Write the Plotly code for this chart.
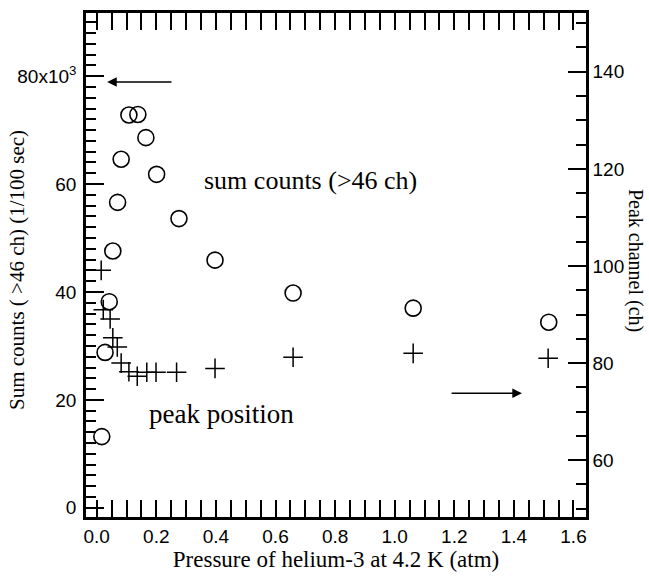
import plotly.graph_objects as go

# ---- data ----
p_sum = [0.017, 0.028, 0.042, 0.054, 0.070, 0.082, 0.108, 0.138, 0.165, 0.201, 0.276, 0.397, 0.659, 1.062, 1.517]
sum_counts = [13.2, 28.8, 38.2, 47.6, 56.6, 64.6, 72.8, 72.9, 68.6, 61.8, 53.6, 45.9, 39.8, 37.0, 34.4]

p_peak = [0.015, 0.022, 0.045, 0.054, 0.069, 0.082, 0.108, 0.136, 0.168, 0.199, 0.268, 0.397, 0.659, 1.062, 1.515]
peak_ch = [99.1, 91.0, 89.1, 85.2, 83.3, 80.0, 78.2, 77.3, 78.1, 78.1, 78.1, 78.9, 81.2, 82.0, 81.0]

left_tickvals = [0, 20, 40, 60, 80]
left_ticktext = ["0", "20", "40", "60", "80x10<sup>3</sup>"]
right_tickvals = [60, 80, 100, 120, 140]

SANS = "Liberation Sans, Arial, Helvetica, sans-serif"
SERIF = "Liberation Serif, Times New Roman, serif"

fig = go.Figure()
fig.add_trace(go.Scatter(
    x=p_sum, y=sum_counts, mode="markers", name="sum counts",
    marker=dict(symbol="circle-open", size=16, color="black", line=dict(width=1.6, color="black")),
    yaxis="y", showlegend=False))
fig.add_trace(go.Scatter(
    x=p_peak, y=peak_ch, mode="markers", name="peak position",
    marker=dict(symbol="cross-thin-open", size=14, color="black", line=dict(width=1.5, color="black")),
    yaxis="y2", showlegend=False))

axis_common = dict(showgrid=False, zeroline=False, showline=True, linecolor="black", linewidth=2.5,
                   ticks="inside", tickcolor="black", tickwidth=2.2,
                   tickfont=dict(family=SANS, size=19, color="black"))

fig.update_layout(
    width=649, height=582,
    margin=dict(l=86, r=63, t=13, b=65, autoexpand=False),
    paper_bgcolor="white", plot_bgcolor="white",
    xaxis=dict(range=[-0.036, 1.642], tickmode="linear", tick0=0, dtick=0.2, tickformat=".1f",
               ticklen=17, mirror="allticks",
               minor=dict(dtick=0.05, tick0=0, ticks="inside", ticklen=8, tickwidth=2.2, tickcolor="black"),
               title=dict(text="Pressure of helium-3 at 4.2 K (atm)", standoff=4,
                          font=dict(family=SERIF, size=23, color="black")),
               **axis_common),
    yaxis=dict(range=[-1.7, 91.7], tickmode="array", tickvals=left_tickvals, ticktext=left_ticktext,
               ticklen=18, ticklabelstandoff=3,
               minor=dict(dtick=2, tick0=0, ticks="inside", ticklen=10, tickwidth=2.2, tickcolor="black"),
               **axis_common),
    yaxis2=dict(range=[48.3, 152.1], overlaying="y", side="right", tickmode="array", tickvals=right_tickvals,
                ticklen=18, ticklabelstandoff=0,
                minor=dict(dtick=5, tick0=0, ticks="inside", ticklen=10, tickwidth=2.2, tickcolor="black"),
                **axis_common),
)

annotations = [
    dict(text="Sum counts ( >46 ch) (1/100 sec)", xref="paper", yref="paper", x=-0.138, y=0.49,
         xanchor="center", yanchor="middle",
         textangle=-90, showarrow=False, font=dict(family=SERIF, size=21, color="black")),
    dict(text="Peak channel (ch)", xref="paper", yref="paper", x=1.098, y=0.51,
         xanchor="center", yanchor="middle",
         textangle=90, showarrow=False, font=dict(family=SERIF, size=20, color="black")),
    dict(text="sum counts (>46 ch)", xref="x", yref="y", x=0.717, y=60.7, showarrow=False,
         xanchor="center", yanchor="middle",
         font=dict(family=SERIF, size=26, color="black")),
    dict(text="peak position", xref="x", yref="y", x=0.42, y=17.4, showarrow=False,
         xanchor="center", yanchor="middle",
         font=dict(family=SERIF, size=27, color="black")),
    # arrows: left one points to left axis, right one to right axis
    dict(text="", xref="x", yref="y", x=0.035, y=78.9, axref="x", ayref="y", ax=0.256, ay=78.9,
         showarrow=True, arrowhead=2, arrowsize=1.2, arrowwidth=1.6, arrowcolor="black"),
    dict(text="", xref="x", yref="y2", x=1.427, y=73.8, axref="x", ayref="y2", ax=1.186, ay=73.8,
         showarrow=True, arrowhead=2, arrowsize=1.2, arrowwidth=1.6, arrowcolor="black"),
]
fig.update_layout(annotations=annotations)

# remove the page's default 8px body margin so the figure sits at the window's corner
fig.write_html("out.html", config={"displayModeBar": False},
               post_script="document.body.style.margin='0px';")
